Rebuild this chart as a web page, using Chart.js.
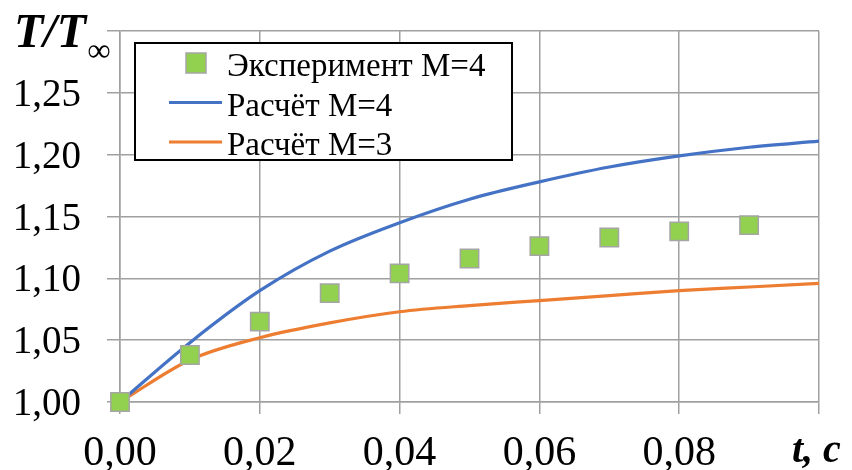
<!DOCTYPE html>
<html>
<head>
<meta charset="utf-8">
<script src="https://cdn.jsdelivr.net/npm/chart.js@4/dist/chart.umd.min.js"></script>
<style>
    html, body { margin: 0; padding: 0; background: #fff; }
</style>
</head>
<body>
<canvas id="chart" width="852" height="470"></canvas>
<script>
// Time, s
const timeExp = [0, 0.01, 0.02, 0.03, 0.04, 0.05, 0.06, 0.07, 0.08, 0.09];
const tempExp = [1.000, 1.038, 1.065, 1.088, 1.104, 1.116, 1.126, 1.133, 1.138, 1.143];

const timeCalc = [0, 0.01, 0.02, 0.03, 0.04, 0.05, 0.06, 0.07, 0.08, 0.09, 0.10];
const tempCalcM4 = [1.000, 1.048, 1.090, 1.122, 1.145, 1.164, 1.178, 1.190, 1.199, 1.206, 1.211];
const tempCalcM3 = [1.000, 1.034, 1.052, 1.064, 1.073, 1.078, 1.082, 1.086, 1.090, 1.093, 1.096];

const seriesLabels = ['Эксперимент М=4', 'Расчёт М=4', 'Расчёт М=3'];
const yTickValues = [1.00, 1.05, 1.10, 1.15, 1.20, 1.25, 1.30];
const xTickValues = [0, 0.02, 0.04, 0.06, 0.08, 0.10];

const SERIF = '"Liberation Serif", serif';

function toPoints(xs, ys) {
    return xs.map((x, i) => ({ x: x, y: ys[i] }));
}

function fmt(v) {
    return v.toFixed(2).replace('.', ',');
}

function text(ctx, str, x, y, size, style, align) {
    ctx.save();
    ctx.font = (style ? style + ' ' : '') + size + 'px ' + SERIF;
    ctx.fillStyle = '#000';
    ctx.textAlign = align || 'left';
    ctx.textBaseline = 'alphabetic';
    ctx.fillText(str, x, y);
    ctx.restore();
}

// Tick labels and axis titles
const labelsPlugin = {
    id: 'labelsPlugin',
    afterDraw(chart) {
        const ctx = chart.ctx;
        const xs = chart.scales.x;
        const ys = chart.scales.y;
        yTickValues.forEach(v => {
            if (v < 1.30 - 1e-9) text(ctx, fmt(v), 81, ys.getPixelForValue(v) + 13, 39, '', 'right');
        });
        xTickValues.forEach(v => {
            if (v < 0.10 - 1e-9) text(ctx, fmt(v), xs.getPixelForValue(v), 465, 42, '', 'center');
        });
        text(ctx, 'T/T', 14, 47, 48, 'bold italic');
        text(ctx, '∞', 87, 61, 33, 'bold italic');
        text(ctx, 't, c', 792, 462, 40, 'bold italic');
    }
};

// Legend box inside the plot, drawn from the dataset styles
const boxLegend = {
    id: 'boxLegend',
    afterDraw(chart) {
        const ctx = chart.ctx;
        ctx.save();
        ctx.fillStyle = '#fff';
        ctx.fillRect(135, 43, 377, 117);
        ctx.strokeStyle = '#000';
        ctx.lineWidth = 2;
        ctx.strokeRect(135, 43, 377, 117);
        chart.data.datasets.forEach((ds, i) => {
            const cy = 63 + i * 39.5;
            if (ds.showLine === false) {
                ctx.fillStyle = ds.pointBackgroundColor;
                ctx.strokeStyle = ds.pointBorderColor;
                ctx.lineWidth = 1.5;
                ctx.fillRect(186, cy - 10, 20, 20);
                ctx.strokeRect(186, cy - 10, 20, 20);
            } else {
                ctx.strokeStyle = ds.borderColor;
                ctx.lineWidth = ds.borderWidth;
                ctx.beginPath();
                ctx.moveTo(169, cy);
                ctx.lineTo(222, cy);
                ctx.stroke();
            }
            text(ctx, ds.label, 227, cy + 13, 33, '');
        });
        ctx.restore();
    }
};

new Chart(document.getElementById('chart'), {
    type: 'scatter',
    data: {
        datasets: [
            {
                label: seriesLabels[0],
                data: toPoints(timeExp, tempExp),
                showLine: false,
                pointStyle: 'rect',
                pointRadius: 13,
                pointHoverRadius: 13,
                pointBackgroundColor: '#92d050',
                pointBorderColor: '#a5a5a5',
                pointBorderWidth: 1.5,
                clip: false,
                order: 0
            },
            {
                label: seriesLabels[1],
                data: toPoints(timeCalc, tempCalcM4),
                showLine: true,
                borderColor: '#4472c4',
                borderWidth: 3.2,
                pointRadius: 0,
                cubicInterpolationMode: 'monotone',
                order: 1
            },
            {
                label: seriesLabels[2],
                data: toPoints(timeCalc, tempCalcM3),
                showLine: true,
                borderColor: '#ed7d31',
                borderWidth: 3.2,
                pointRadius: 0,
                cubicInterpolationMode: 'monotone',
                order: 2
            }
        ]
    },
    options: {
        responsive: false,
        animation: false,
        events: [],
        layout: { padding: { top: 31, right: 33, left: 0, bottom: 0 } },
        plugins: {
            legend: { display: false },
            tooltip: { enabled: false }
        },
        scales: {
            x: {
                type: 'linear',
                min: 0,
                max: 0.10,
                afterBuildTicks: scale => { scale.ticks = xTickValues.map(v => ({ value: v })); },
                afterFit: scale => { scale.height = 68; scale.paddingLeft = 0; scale.paddingRight = 0; },
                border: { color: '#a0a0a0', width: 1.5 },
                grid: { color: '#a0a0a0', lineWidth: 1.5, tickLength: 12 },
                ticks: { display: false }
            },
            y: {
                min: 1.00,
                max: 1.30,
                afterBuildTicks: scale => { scale.ticks = yTickValues.map(v => ({ value: v })); },
                afterFit: scale => { scale.width = 120; scale.paddingTop = 0; scale.paddingBottom = 0; },
                border: { color: '#a0a0a0', width: 1.5 },
                grid: { color: '#a0a0a0', lineWidth: 1.5, tickLength: 13 },
                ticks: { display: false }
            }
        }
    },
    plugins: [labelsPlugin, boxLegend]
});
</script>
</body>
</html>
